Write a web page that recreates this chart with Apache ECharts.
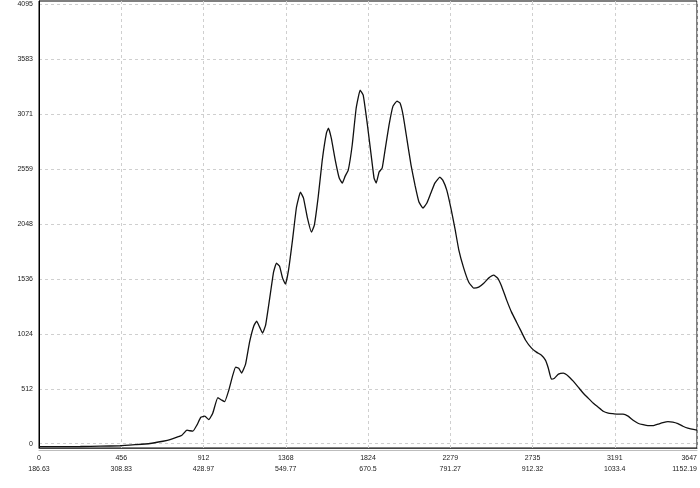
<!DOCTYPE html>
<html>
<head>
<meta charset="utf-8">
<script src="https://cdn.jsdelivr.net/npm/echarts@6/dist/echarts.min.js"></script>
<style>html,body{margin:0;padding:0;background:#fff;}#c{width:700px;height:488px;}</style>
</head>
<body>
<div id="c"></div>
<script>
// Pixel index (x) of the spectrum
const pixelX = [0,119,229,339,450,533,615,687,726,765,792,820,836,853,875,897,919,941,963,991,1013,1029,1052,1074,1090,1107,1123,1145,1167,1190,1206,1223,1239,1256,1278,1300,1316,1333,1350,1366,1383,1405,1427,1449,1466,1488,1510,1526,1548,1570,1593,1604,1620,1642,1664,1681,1697,1714,1736,1758,1780,1797,1819,1841,1857,1869,1885,1902,1918,1940,1962,1984,2001,2018,2040,2062,2084,2106,2128,2150,2172,2194,2222,2238,2260,2283,2305,2327,2354,2382,2409,2437,2465,2492,2520,2542,2564,2592,2619,2647,2669,2697,2730,2757,2785,2807,2823,2840,2857,2879,2906,2934,2961,2989,3017,3044,3072,3099,3127,3155,3182,3210,3237,3265,3293,3320,3348,3375,3403,3431,3458,3486,3513,3541,3569,3596,3647];
// Intensity counts
const counts = [-28,-28,-26,-23,-19,-9,2,23,37,61,79,126,121,117,173,247,257,224,285,429,406,392,499,639,714,704,658,742,947,1096,1143,1087,1031,1105,1348,1600,1684,1656,1544,1488,1618,1898,2205,2345,2290,2103,1973,2038,2309,2645,2896,2943,2850,2645,2477,2430,2495,2551,2785,3130,3297,3251,2990,2691,2477,2430,2533,2570,2738,2971,3148,3195,3176,3064,2831,2598,2411,2253,2197,2244,2337,2430,2486,2458,2365,2197,2010,1805,1637,1506,1451,1460,1497,1544,1572,1544,1469,1339,1227,1133,1059,965,891,854,825,779,704,602,611,649,658,630,583,527,471,425,378,341,303,285,280,275,275,257,219,191,177,168,168,182,196,205,201,187,163,145,126];
// Axis tick labels
const xTickPixels = [0,456,912,1368,1824,2279,2735,3191,3647];
const xTickWavelengths = ['186.63','308.83','428.97','549.77','670.5','791.27','912.32','1033.4','1152.19'];
const yTicks = [0,512,1024,1536,2048,2559,3071,3583,4095];

const chart = echarts.init(document.getElementById('c'), null, {renderer:'canvas'});
const labelFont = {fontFamily:'Liberation Sans', fontSize:7, color:'#222'};
chart.setOption({
  animation:false,
  backgroundColor:'#ffffff',
  grid:{left:39, right:2, top:1, bottom:40, show:true, borderColor:'#000', borderWidth:1, backgroundColor:'transparent'},
  xAxis:{
    type:'value', min:0, max:3647, interval:3647/8,
    axisLine:{show:true, onZero:false, lineStyle:{color:'#444', width:1, shadowColor:'#bdbdbd', shadowOffsetY:2, shadowBlur:0}},
    axisTick:{show:false},
    splitLine:{show:true, lineStyle:{color:'#cfcfcf', type:[3,3], width:1}},
    axisLabel:Object.assign({}, labelFont, {
      margin:5, lineHeight:11, alignMaxLabel:'right', showMaxLabel:true, showMinLabel:true,
      formatter:function(v, i){ return xTickPixels[i] + '\n' + xTickWavelengths[i]; }
    })
  },
  yAxis:{
    type:'value', min:-40, max:4128,
    axisLine:{show:true, lineStyle:{color:'#000', width:1}},
    axisTick:{show:false, customValues:yTicks},
    splitLine:{show:true, lineStyle:{color:'#cfcfcf', type:[3,3], width:1}},
    axisLabel:Object.assign({}, labelFont, {margin:6, customValues:yTicks,
      formatter:function(v){ return String(Math.round(v)); }})
  },
  series:[{
    type:'line',
    data:pixelX.map(function(x,i){ return [x, counts[i]]; }),
    showSymbol:false,
    smooth:0.12,
    clip:true,
    lineStyle:{color:'#111', width:1.3}
  }]
});
</script>
</body>
</html>
